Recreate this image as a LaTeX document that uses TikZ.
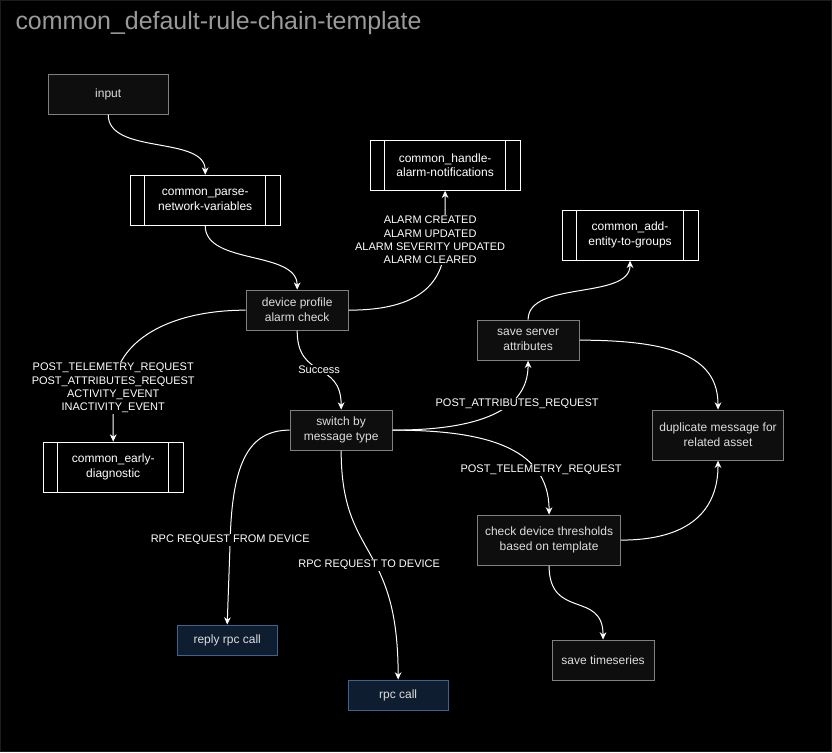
\documentclass[tikz,border=0pt]{standalone}
\usepackage{fontspec}
\setmainfont{Liberation Sans}
\usetikzlibrary{arrows.meta}
\definecolor{rulefill}{HTML}{0E0E0E}
\definecolor{ruleline}{HTML}{808080}
\definecolor{ruletext}{HTML}{DDDDDD}
\definecolor{rpcfill}{HTML}{0F1D30}
\definecolor{rpcline}{HTML}{41618F}
\definecolor{titlegray}{HTML}{9A9A9A}
\definecolor{frameline}{HTML}{1C1C1C}

\begin{document}
\begin{tikzpicture}[x=0.75pt,y=-0.75pt,>={Stealth[length=5.5pt,width=5pt]},
  box/.style={font=\fontsize{9}{11.25}\selectfont,align=center,inner sep=2pt,line width=0.75pt},
  rulenode/.style={box,draw=ruleline,fill=rulefill,text=ruletext,minimum width=76.5pt,minimum height=30pt},
  rpcnode/.style={box,draw=rpcline,fill=rpcfill,text=ruletext,minimum width=75pt,minimum height=22.5pt},
  subchain/.style={box,draw=white,fill=black,text=white,minimum width=112.5pt,minimum height=37.5pt,
    path picture={\draw[white,line width=0.75pt]
      ([xshift=11pt]path picture bounding box.north west) -- ([xshift=11pt]path picture bounding box.south west)
      ([xshift=-11pt]path picture bounding box.north east) -- ([xshift=-11pt]path picture bounding box.south east);}},
  flow/.style={->,white,line width=0.75pt},
  lbl/.style={font=\fontsize{8.25}{10}\selectfont,text=white,fill=black,align=center,inner sep=1pt}]
  % canvas
  \fill[black,draw=frameline] (0,0) rectangle (831,751);
  \useasboundingbox (0,0) rectangle (832,752);
  \node[anchor=west,text=titlegray,font=\fontsize{18.7}{20}\selectfont,inner sep=0pt] (title) at (15,23) {common\_default-rule-chain-template};

  % nodes
  \node[rulenode,minimum width=90pt] (input) at (108,94) {input};
  \node[subchain] (parse) at (205,200) {common\_parse-\\network-variables};
  \node[subchain] (alarmnotif) at (445,165) {common\_handle-\\alarm-notifications};
  \node[subchain,minimum width=102pt] (addgroups) at (630,235) {common\_add-\\entity-to-groups};
  \node[rulenode] (profile) at (297,310) {device profile\\alarm check};
  \node[rulenode] (saveattr) at (528,340) {save server\\attributes};
  \node[rulenode] (switch) at (341,430) {switch by\\message type};
  \node[rulenode,minimum width=98pt,minimum height=37.5pt] (duplicate) at (718,435) {duplicate message for\\related asset};
  \node[subchain,minimum width=105pt] (early) at (113,467) {common\_early-\\diagnostic};
  \node[rulenode,minimum width=107pt,minimum height=37.5pt] (thresholds) at (549,540) {check device thresholds\\based on template};
  \node[rulenode] (timeseries) at (603,660) {save timeseries};
  \node[rpcnode] (reply) at (227,640) {reply rpc call};
  \node[rpcnode] (rpc) at (398,695) {rpc call};

  % connectors
  \draw[flow] (input.south) .. controls (108,155) and (205,135) .. (parse.north);
  \draw[flow] (parse.south) .. controls (205,265) and (297,250) .. (profile.north);
  \draw[flow] (profile.east) .. controls (410,310) and (445,290) .. (445,240) -- (alarmnotif.south);
  \draw[flow] (profile.west) .. controls (170,310) and (115,340) .. (113,390) -- (early.north);
  \draw[flow] (profile.south) .. controls (297,380) and (341,360) .. (switch.north);
  \draw[flow] (switch.east) .. controls (480,430) and (528,410) .. (saveattr.south);
  \draw[flow] (switch.east) .. controls (480,430) and (549,445) .. (thresholds.north);
  \draw[flow] (switch.west) .. controls (250,430) and (232,460) .. (230,540) -- (reply.north);
  \draw[flow] (switch.south) .. controls (341,560) and (398,540) .. (rpc.north);
  \draw[flow] (saveattr.east) .. controls (680,340) and (718,360) .. (duplicate.north);
  \draw[flow] (saveattr.north) .. controls (528,280) and (630,300) .. (addgroups.south);
  \draw[flow] (thresholds.east) .. controls (690,540) and (718,510) .. (duplicate.south);
  \draw[flow] (thresholds.south) .. controls (549,620) and (603,590) .. (timeseries.north);

  % connector labels
  \node[lbl] (alarmlbl) at (430,240) {ALARM CREATED\\ALARM UPDATED\\ALARM SEVERITY UPDATED\\ALARM CLEARED};
  \node[lbl] (earlylbl) at (113,388) {POST\_TELEMETRY\_REQUEST\\POST\_ATTRIBUTES\_REQUEST\\ACTIVITY\_EVENT\\INACTIVITY\_EVENT};
  \node[lbl] (successlbl) at (319,370) {Success};
  \node[lbl] (attrlbl) at (517,404) {POST\_ATTRIBUTES\_REQUEST};
  \node[lbl] (telelbl) at (541,470) {POST\_TELEMETRY\_REQUEST};
  \node[lbl] (fromlbl) at (230,540) {RPC REQUEST FROM DEVICE};
  \node[lbl] (tolbl) at (369,565) {RPC REQUEST TO DEVICE};
\end{tikzpicture}
\end{document}
